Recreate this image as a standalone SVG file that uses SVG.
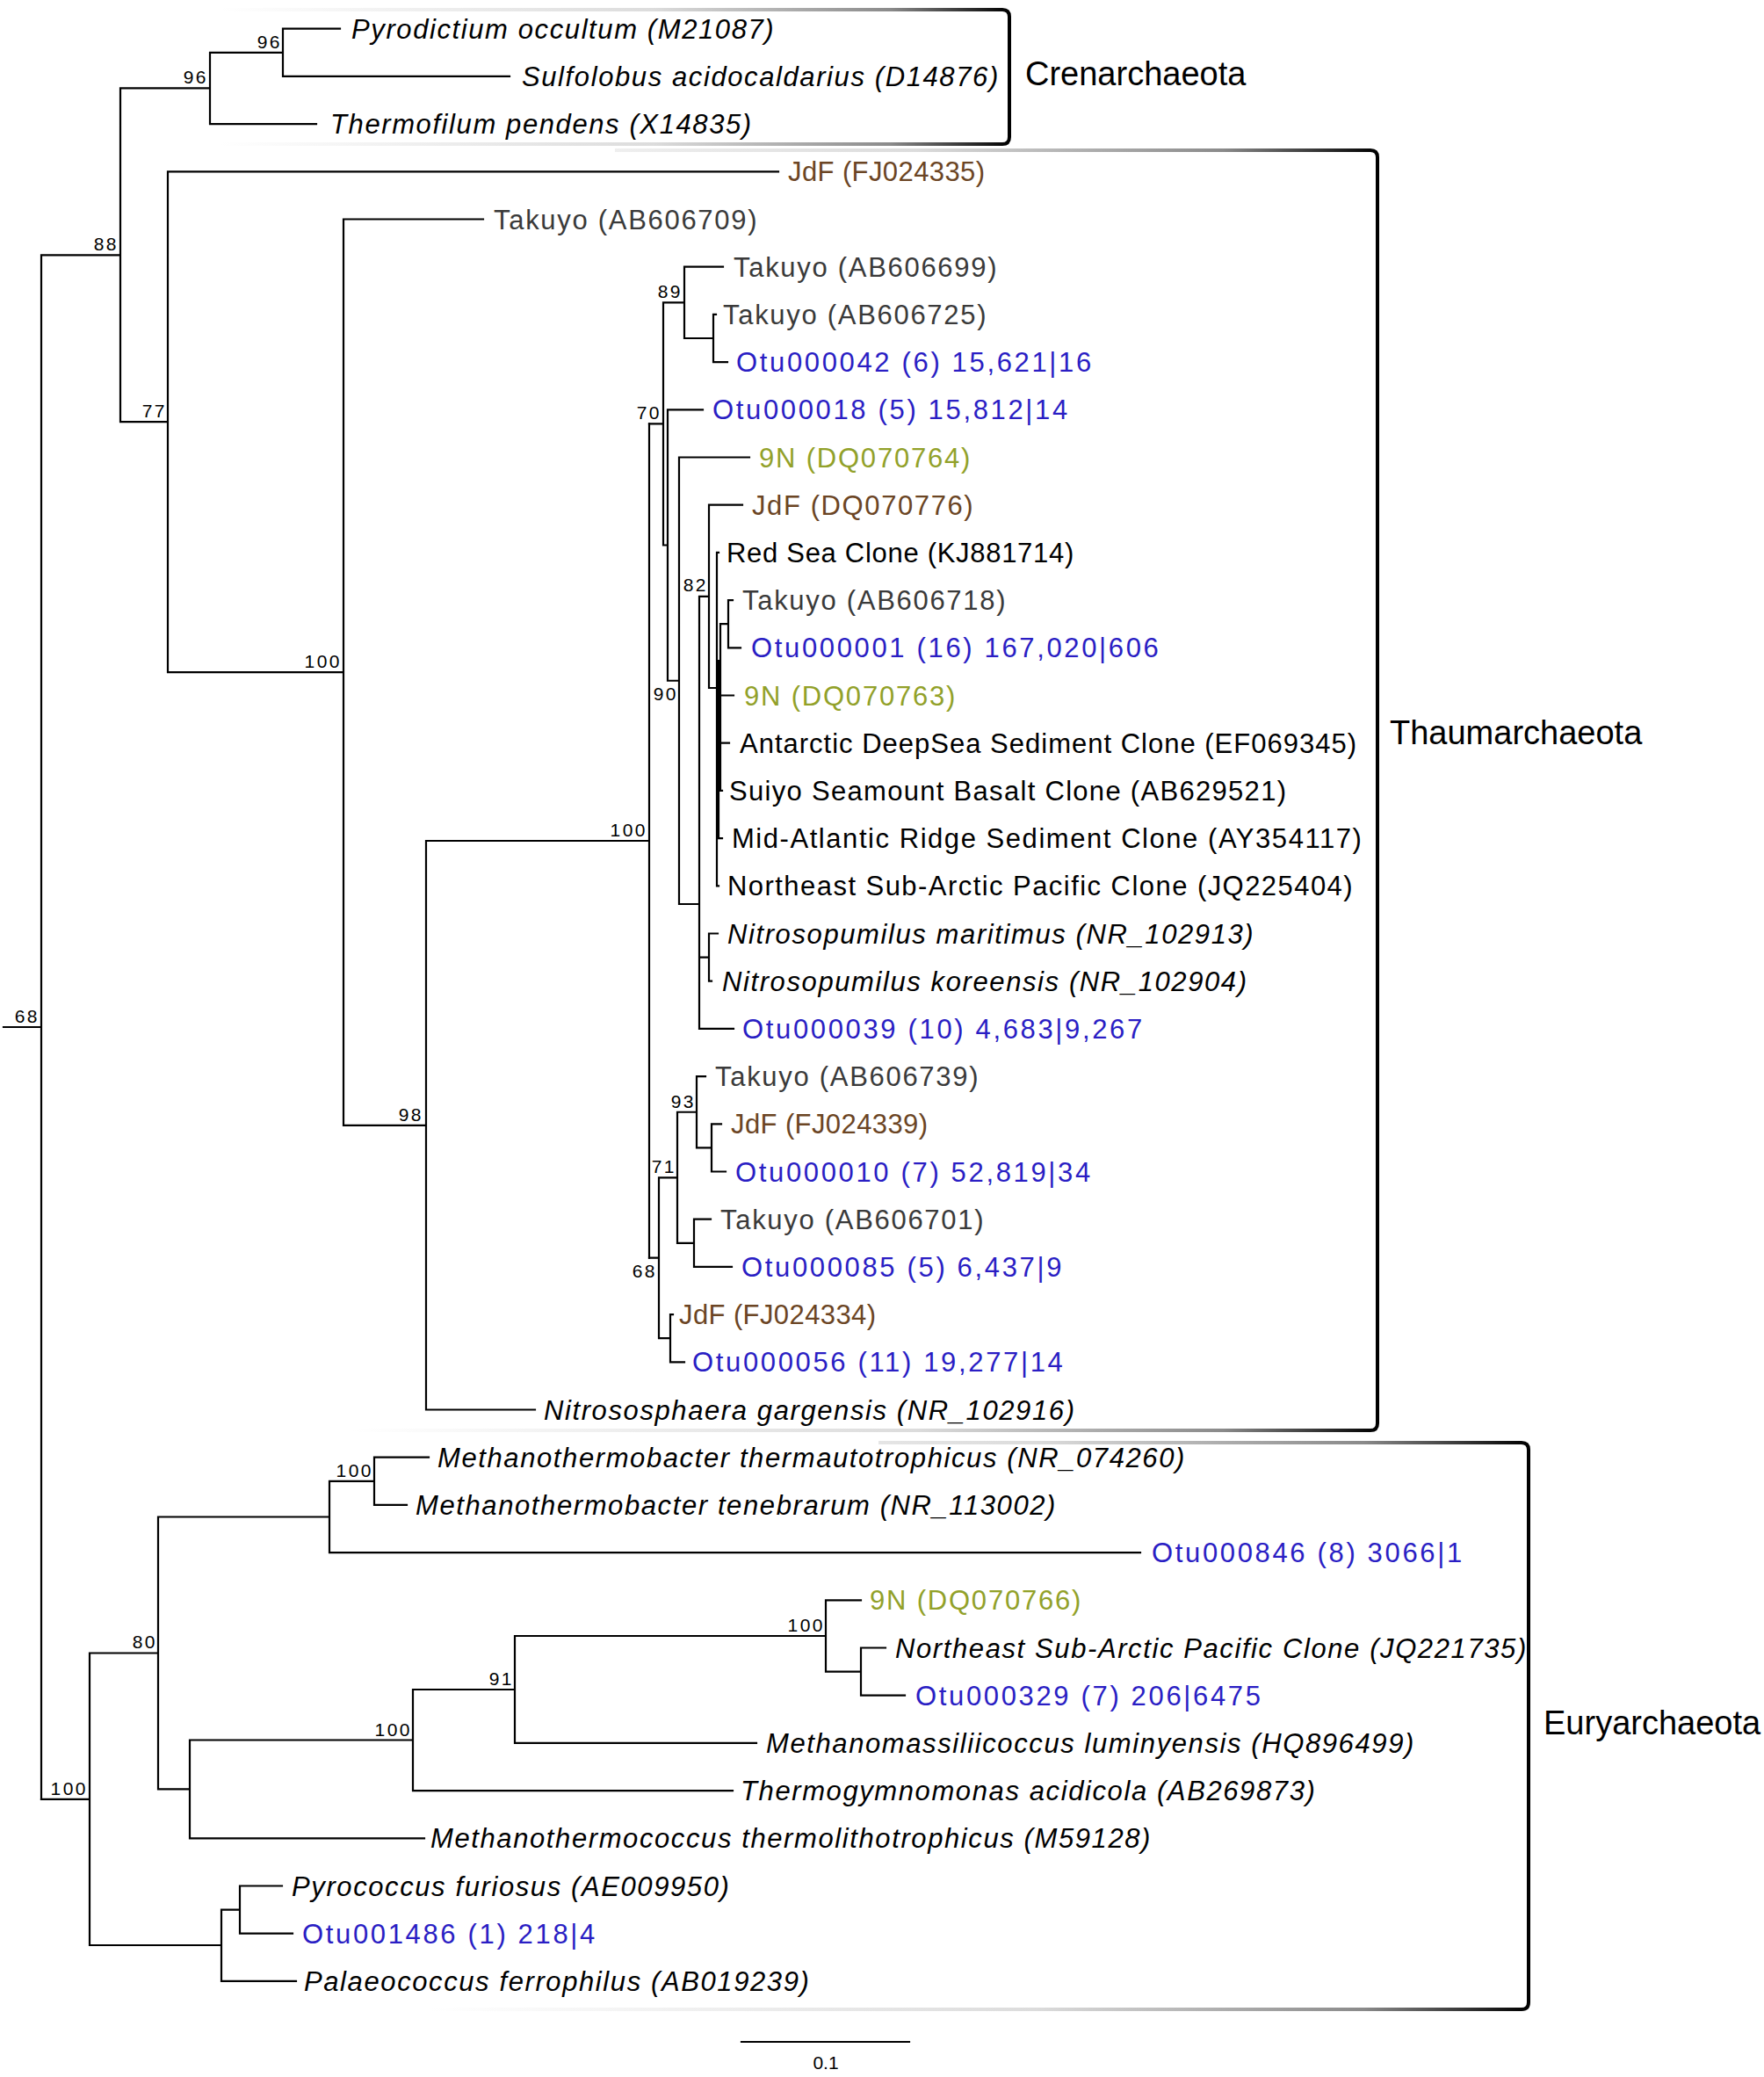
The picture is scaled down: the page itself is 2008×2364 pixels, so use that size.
<svg xmlns="http://www.w3.org/2000/svg" width="2008" height="2364" viewBox="0 0 2008 2364">
<style>
.br{stroke:#000;stroke-width:2.2;fill:none;stroke-linecap:square}
.box{fill:none;stroke:url(#fade);stroke-width:4}
text{font-family:"Liberation Sans",Arial,Helvetica,sans-serif}
.lf{font-size:31px;letter-spacing:1.3px}
.it{font-style:italic;letter-spacing:1.6px}
.blue{fill:#2a1ec4;letter-spacing:2.65px}
.brown{fill:#6b4524;letter-spacing:1.6px}
.fj{letter-spacing:0.4px}
.olive{fill:#92a12a;letter-spacing:1.8px}
.grey{fill:#3a3a3a;letter-spacing:1.7px}
.blk{fill:#000}
.bs{font-size:21px;letter-spacing:2.5px;text-anchor:end;fill:#000}
.clade{font-size:38px;fill:#000}
.sc{font-size:21px;text-anchor:middle;fill:#000}
</style>
<defs>
<linearGradient id="fade" x1="0" y1="0" x2="1" y2="0">
<stop offset="0" stop-color="#ffffff"/>
<stop offset="0.55" stop-color="#dcdcdc"/>
<stop offset="0.85" stop-color="#8a8a8a"/>
<stop offset="1" stop-color="#000000"/>
</linearGradient>
</defs>
<rect width="2008" height="2364" fill="#fff"/>
<g id="clade-boxes">
<path id="box-cren" class="box" d="M250,11 H1141 Q1149,11 1149,19 V156 Q1149,164 1141,164 H250"/>
<path id="box-thaum" class="box" d="M700,171 H1560 Q1568,171 1568,179 V1620 Q1568,1628 1560,1628 H400"/>
<path id="box-eury" class="box" d="M1000,1642 H1732 Q1740,1642 1740,1650 V2279 Q1740,2287 1732,2287 H490"/>
</g>
<g id="connectors">
<path class="br" d="M4,1169 H47 M47,290.3 V2047.8 M47,290.3 H137 M137,100.45 V480.2 M137,100.45 H239 M239,59.8 V141.1 M239,59.8 H322 M322,32.7 V86.9 M322,32.7 H387 M322,86.9 H580 M239,141.1 H360 M137,480.2 H191 M191,195.3 V765.1 M191,195.3 H886 M191,765.1 H391 M391,249.5 V1280.8 M391,249.5 H550 M391,1280.8 H485 M485,957 V1604.5 M485,1604.5 H609 M485,957 H739 M739,482.4 V1431.7"/>
<path class="br" d="M739,482.4 H755 M755,344.35 V620.5 M755,344.35 H779 M779,303.7 V385 M779,303.7 H823 M779,385 H812 M812,357.9 V412.1 M812,357.9 H815 M812,412.1 H828 M755,620.5 H760 M760,466.3 V774.75 M760,466.3 H800 M760,774.75 H773 M773,520.5 V1029 M773,520.5 H853 M773,1029 H796 M796,678.9 V1170.9 M796,678.9 H807 M807,574.7 V783 M807,574.7 H845 M807,783 H816 M816,628.9 V1008.3 M816,628.9 H818 M816,1008.3 H818 M816,860 H818 M818,752 V954.1 M818,954.1 H822 M818,800 H820 M820,710.2 V899.9 M820,710.2 H829 M829,683.1 V737.3 M829,683.1 H834 M829,737.3 H843 M820,791.5 H835 M820,845.7 H830 M820,899.9 H822 M796,1089.6 H807 M807,1062.5 V1116.7 M807,1062.5 H817 M807,1116.7 H810 M796,1170.9 H835"/>
<path class="br" d="M739,1431.7 H750 M750,1340.3 V1523.2 M750,1340.3 H771 M771,1265.75 V1414.8 M771,1265.75 H793 M793,1225.1 V1306.4 M793,1225.1 H803 M793,1306.4 H810 M810,1279.3 V1333.5 M810,1279.3 H821 M810,1333.5 H826 M771,1414.8 H790 M790,1387.7 V1441.9 M790,1387.7 H809 M790,1441.9 H833 M750,1523.2 H763 M763,1496.1 V1550.3 M763,1496.1 H766 M763,1550.3 H779"/>
<path class="br" d="M47,2047.8 H102 M102,1881.5 V2214 M102,1881.5 H180 M180,1726.5 V2036.4 M180,1726.5 H375 M375,1685.8 V1767.1 M375,1685.8 H426 M426,1658.7 V1712.9 M426,1658.7 H488 M426,1712.9 H463 M375,1767.1 H1298 M180,2036.4 H216 M216,1980.5 V2092.3 M216,1980.5 H470 M470,1923 V2038.1 M470,2038.1 H834 M470,1923 H586 M586,1862 V1983.9 M586,1983.9 H861 M586,1862 H940 M940,1821.3 V1902.6 M940,1821.3 H980 M940,1902.6 H980 M980,1875.5 V1929.7 M980,1875.5 H1008 M980,1929.7 H1030 M216,2092.3 H483 M102,2214 H252 M252,2173.6 V2254.9 M252,2173.6 H273 M273,2146.5 V2200.7 M273,2146.5 H321 M273,2200.7 H333 M252,2254.9 H337"/>
<path id="scale-bar" class="br" d="M844,2324 H1035"/>
</g>
<g id="leaves">
<g id="leaf-1"><text class="lf it blk" x="400" y="43.7">Pyrodictium occultum (M21087)</text></g>
<g id="leaf-2"><text class="lf it blk" x="594" y="97.9">Sulfolobus acidocaldarius (D14876)</text></g>
<g id="leaf-3"><text class="lf it blk" x="376" y="152.1">Thermofilum pendens (X14835)</text></g>
<g id="leaf-4"><text class="lf brown fj" x="897" y="206.3">JdF (FJ024335)</text></g>
<g id="leaf-5"><text class="lf grey" x="562" y="260.5">Takuyo (AB606709)</text></g>
<g id="leaf-6"><text class="lf grey" x="835" y="314.7">Takuyo (AB606699)</text></g>
<g id="leaf-7"><text class="lf grey" x="823" y="368.9">Takuyo (AB606725)</text></g>
<g id="leaf-8"><text class="lf blue" x="838" y="423.1">Otu000042 (6) 15,621|16</text></g>
<g id="leaf-9"><text class="lf blue" x="811" y="477.3">Otu000018 (5) 15,812|14</text></g>
<g id="leaf-10"><text class="lf olive" x="864" y="531.5">9N (DQ070764)</text></g>
<g id="leaf-11"><text class="lf brown" x="856" y="585.7">JdF (DQ070776)</text></g>
<g id="leaf-12"><text class="lf blk" x="827" y="639.9" style="letter-spacing:0.7px">Red Sea Clone (KJ881714)</text></g>
<g id="leaf-13"><text class="lf grey" x="845" y="694.1">Takuyo (AB606718)</text></g>
<g id="leaf-14"><text class="lf blue" x="855" y="748.3">Otu000001 (16) 167,020|606</text></g>
<g id="leaf-15"><text class="lf olive" x="847" y="802.5">9N (DQ070763)</text></g>
<g id="leaf-16"><text class="lf blk" x="842" y="856.7" style="letter-spacing:1.0px">Antarctic DeepSea Sediment Clone (EF069345)</text></g>
<g id="leaf-17"><text class="lf blk" x="830" y="910.9">Suiyo Seamount Basalt Clone (AB629521)</text></g>
<g id="leaf-18"><text class="lf blk" x="833" y="965.1" style="letter-spacing:1.55px">Mid-Atlantic Ridge Sediment Clone (AY354117)</text></g>
<g id="leaf-19"><text class="lf blk" x="828" y="1019.3" style="letter-spacing:1.45px">Northeast Sub-Arctic Pacific Clone (JQ225404)</text></g>
<g id="leaf-20"><text class="lf it blk" x="828" y="1073.5">Nitrosopumilus maritimus (NR_102913)</text></g>
<g id="leaf-21"><text class="lf it blk" x="822" y="1127.7">Nitrosopumilus koreensis (NR_102904)</text></g>
<g id="leaf-22"><text class="lf blue" x="845" y="1181.9">Otu000039 (10) 4,683|9,267</text></g>
<g id="leaf-23"><text class="lf grey" x="814" y="1236.1">Takuyo (AB606739)</text></g>
<g id="leaf-24"><text class="lf brown fj" x="832" y="1290.3">JdF (FJ024339)</text></g>
<g id="leaf-25"><text class="lf blue" x="837" y="1344.5">Otu000010 (7) 52,819|34</text></g>
<g id="leaf-26"><text class="lf grey" x="820" y="1398.7">Takuyo (AB606701)</text></g>
<g id="leaf-27"><text class="lf blue" x="844" y="1452.9">Otu000085 (5) 6,437|9</text></g>
<g id="leaf-28"><text class="lf brown fj" x="773" y="1507.1">JdF (FJ024334)</text></g>
<g id="leaf-29"><text class="lf blue" x="788" y="1561.3">Otu000056 (11) 19,277|14</text></g>
<g id="leaf-30"><text class="lf it blk" x="619" y="1615.5">Nitrososphaera gargensis (NR_102916)</text></g>
<g id="leaf-31"><text class="lf it blk" x="498" y="1669.7">Methanothermobacter thermautotrophicus (NR_074260)</text></g>
<g id="leaf-32"><text class="lf it blk" x="473" y="1723.9">Methanothermobacter tenebrarum (NR_113002)</text></g>
<g id="leaf-33"><text class="lf blue" x="1311" y="1778.1">Otu000846 (8) 3066|1</text></g>
<g id="leaf-34"><text class="lf olive" x="990" y="1832.3">9N (DQ070766)</text></g>
<g id="leaf-35"><text class="lf it blk" x="1019" y="1886.5">Northeast Sub-Arctic Pacific Clone (JQ221735)</text></g>
<g id="leaf-36"><text class="lf blue" x="1042" y="1940.7">Otu000329 (7) 206|6475</text></g>
<g id="leaf-37"><text class="lf it blk" x="872" y="1994.9">Methanomassiliicoccus luminyensis (HQ896499)</text></g>
<g id="leaf-38"><text class="lf it blk" x="843" y="2049.1">Thermogymnomonas acidicola (AB269873)</text></g>
<g id="leaf-39"><text class="lf it blk" x="490" y="2103.3">Methanothermococcus thermolithotrophicus (M59128)</text></g>
<g id="leaf-40"><text class="lf it blk" x="332" y="2157.5">Pyrococcus furiosus (AE009950)</text></g>
<g id="leaf-41"><text class="lf blue" x="344" y="2211.7">Otu001486 (1) 218|4</text></g>
<g id="leaf-42"><text class="lf it blk" x="346" y="2265.9">Palaeococcus ferrophilus (AB019239)</text></g>
</g>
<g id="bootstrap">
<text class="bs" x="321" y="55">96</text>
<text class="bs" x="237" y="95">96</text>
<text class="bs" x="135" y="285">88</text>
<text class="bs" x="190" y="475">77</text>
<text class="bs" x="389" y="760">100</text>
<text class="bs" x="482" y="1276">98</text>
<text class="bs" x="737" y="952">100</text>
<text class="bs" x="753" y="477">70</text>
<text class="bs" x="777" y="339">89</text>
<text class="bs" x="772" y="797">90</text>
<text class="bs" x="806" y="673">82</text>
<text class="bs" x="748" y="1454">68</text>
<text class="bs" x="770" y="1335">71</text>
<text class="bs" x="792" y="1261">93</text>
<text class="bs" x="425" y="1681">100</text>
<text class="bs" x="179" y="1876">80</text>
<text class="bs" x="939" y="1857">100</text>
<text class="bs" x="585" y="1918">91</text>
<text class="bs" x="469" y="1976">100</text>
<text class="bs" x="100" y="2043">100</text>
<text class="bs" x="45" y="1164">68</text>
</g>
<g id="clade-labels">
<text id="lbl-cren" class="clade" x="1167" y="97">Crenarchaeota</text>
<text id="lbl-thaum" class="clade" x="1582" y="847">Thaumarchaeota</text>
<text id="lbl-eury" class="clade" x="1757" y="1974">Euryarchaeota</text>
</g>
<g id="scale"><text class="sc" x="940" y="2355">0.1</text></g>
</svg>
